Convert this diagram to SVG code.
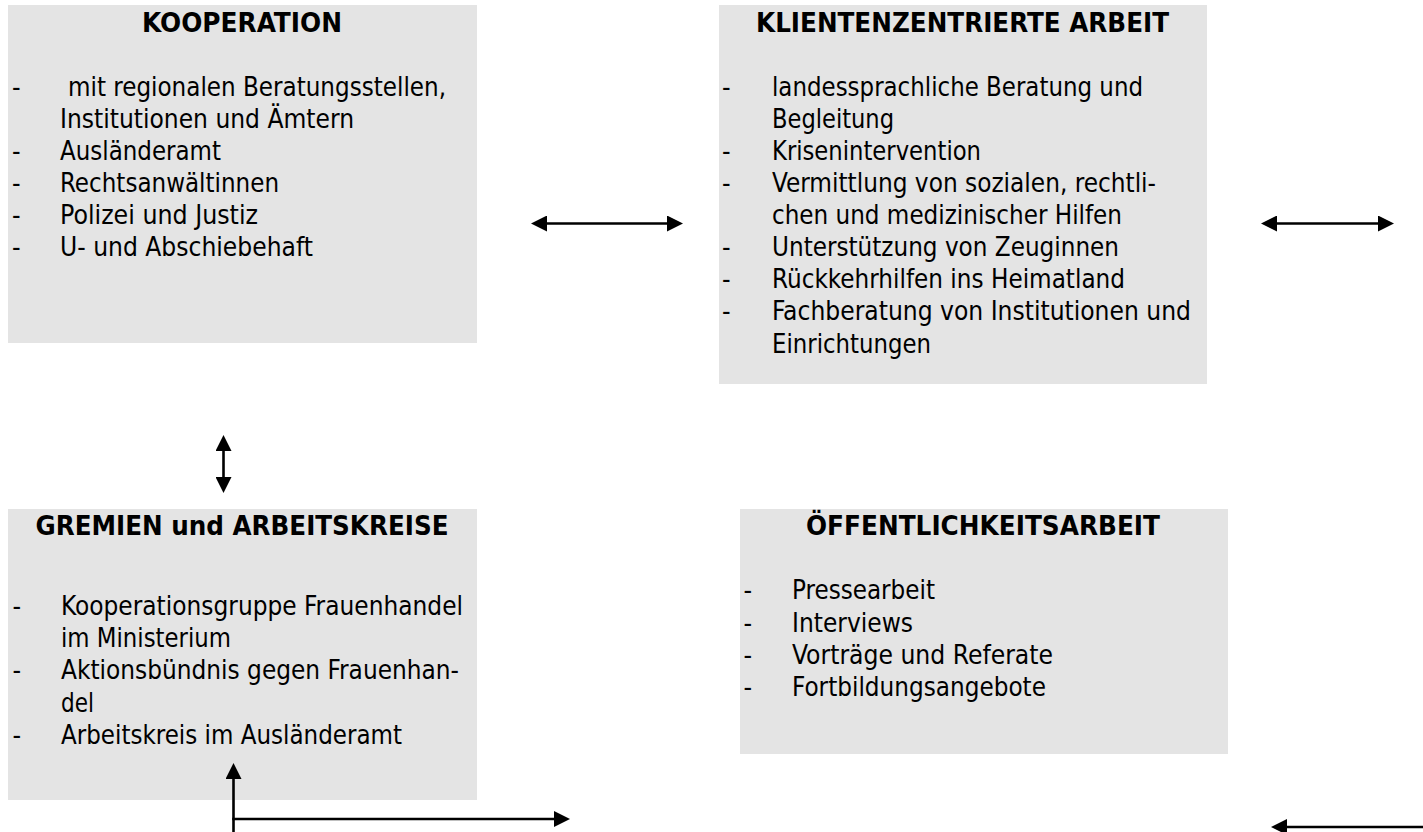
<svg xmlns="http://www.w3.org/2000/svg" width="1423" height="832" viewBox="0 0 1423 832">
<style>
.box{fill:#e4e4e4;stroke:none}
.t{font-family:"DejaVu Sans Condensed","DejaVu Sans",sans-serif;font-size:26.5px;font-weight:bold;fill:#000}
.b{font-family:"DejaVu Sans Condensed","DejaVu Sans",sans-serif;font-size:26.5px;fill:#000}
.c{fill:none;stroke:#000;stroke-width:2.6}
</style>
<defs>
<marker id="ah" viewBox="0 0 16 16" markerWidth="16" markerHeight="16" refX="0" refY="8" orient="auto-start-reverse" markerUnits="userSpaceOnUse">
<path d="M0,0 L16,8 L0,16 z" fill="#000"/>
</marker>
</defs>
<rect width="1423" height="832" fill="#fff"/>

<g id="kooperation">
<rect class="box" x="8" y="5" width="469" height="338"/>
<text class="t" x="142" y="32" textLength="200" lengthAdjust="spacingAndGlyphs">KOOPERATION</text>
<text class="b" x="12" y="96">-</text>
<text class="b" x="68" y="96" textLength="378" lengthAdjust="spacingAndGlyphs">mit regionalen Beratungsstellen,</text>
<text class="b" x="60" y="128" textLength="294" lengthAdjust="spacingAndGlyphs">Institutionen und Ämtern</text>
<text class="b" x="12" y="160">-</text>
<text class="b" x="60" y="160" textLength="161" lengthAdjust="spacingAndGlyphs">Ausländeramt</text>
<text class="b" x="12" y="192">-</text>
<text class="b" x="60" y="192" textLength="219" lengthAdjust="spacingAndGlyphs">Rechtsanwältinnen</text>
<text class="b" x="12" y="224">-</text>
<text class="b" x="60" y="224" textLength="198" lengthAdjust="spacingAndGlyphs">Polizei und Justiz</text>
<text class="b" x="12" y="256">-</text>
<text class="b" x="60" y="256" textLength="253" lengthAdjust="spacingAndGlyphs">U- und Abschiebehaft</text>
</g>

<g id="klientenzentrierte-arbeit">
<rect class="box" x="719" y="5" width="488" height="379"/>
<text class="t" x="756" y="32" textLength="413" lengthAdjust="spacingAndGlyphs">KLIENTENZENTRIERTE ARBEIT</text>
<text class="b" x="722" y="96">-</text>
<text class="b" x="772" y="96" textLength="371" lengthAdjust="spacingAndGlyphs">landessprachliche Beratung und</text>
<text class="b" x="772" y="128" textLength="122" lengthAdjust="spacingAndGlyphs">Begleitung</text>
<text class="b" x="722" y="160">-</text>
<text class="b" x="772" y="160" textLength="209" lengthAdjust="spacingAndGlyphs">Krisenintervention</text>
<text class="b" x="722" y="192">-</text>
<text class="b" x="772" y="192" textLength="384" lengthAdjust="spacingAndGlyphs">Vermittlung von sozialen, rechtli-</text>
<text class="b" x="772" y="224" textLength="350" lengthAdjust="spacingAndGlyphs">chen und medizinischer Hilfen</text>
<text class="b" x="722" y="256">-</text>
<text class="b" x="772" y="256" textLength="347" lengthAdjust="spacingAndGlyphs">Unterstützung von Zeuginnen</text>
<text class="b" x="722" y="288">-</text>
<text class="b" x="772" y="288" textLength="353" lengthAdjust="spacingAndGlyphs">Rückkehrhilfen ins Heimatland</text>
<text class="b" x="722" y="320">-</text>
<text class="b" x="772" y="320" textLength="419" lengthAdjust="spacingAndGlyphs">Fachberatung von Institutionen und</text>
<text class="b" x="772" y="353" textLength="159" lengthAdjust="spacingAndGlyphs">Einrichtungen</text>
</g>

<g id="gremien">
<rect class="box" x="8" y="509" width="469" height="291"/>
<text class="t" x="35.5" y="535" textLength="413" lengthAdjust="spacingAndGlyphs">GREMIEN und ARBEITSKREISE</text>
<text class="b" x="12.5" y="615">-</text>
<text class="b" x="61" y="615" textLength="402" lengthAdjust="spacingAndGlyphs">Kooperationsgruppe Frauenhandel</text>
<text class="b" x="61" y="647" textLength="170" lengthAdjust="spacingAndGlyphs">im Ministerium</text>
<text class="b" x="12.5" y="679">-</text>
<text class="b" x="61" y="679" textLength="398" lengthAdjust="spacingAndGlyphs">Aktionsbündnis gegen Frauenhan-</text>
<text class="b" x="61" y="712" textLength="33" lengthAdjust="spacingAndGlyphs">del</text>
<text class="b" x="12.5" y="744">-</text>
<text class="b" x="61" y="744" textLength="341" lengthAdjust="spacingAndGlyphs">Arbeitskreis im Ausländeramt</text>
</g>

<g id="oeffentlichkeitsarbeit">
<rect class="box" x="740" y="509" width="488" height="245"/>
<text class="t" x="806" y="535" textLength="354" lengthAdjust="spacingAndGlyphs">ÖFFENTLICHKEITSARBEIT</text>
<text class="b" x="743.5" y="599">-</text>
<text class="b" x="792" y="599" textLength="143" lengthAdjust="spacingAndGlyphs">Pressearbeit</text>
<text class="b" x="743.5" y="632">-</text>
<text class="b" x="792" y="632" textLength="121" lengthAdjust="spacingAndGlyphs">Interviews</text>
<text class="b" x="743.5" y="664">-</text>
<text class="b" x="792" y="664" textLength="261" lengthAdjust="spacingAndGlyphs">Vorträge und Referate</text>
<text class="b" x="743.5" y="696">-</text>
<text class="b" x="792" y="696" textLength="254" lengthAdjust="spacingAndGlyphs">Fortbildungsangebote</text>
</g>

<g id="connectors">
<path class="c" d="M547,223.5 H667" marker-start="url(#ah)" marker-end="url(#ah)"/>
<path class="c" d="M1277,223.5 H1378" marker-start="url(#ah)" marker-end="url(#ah)"/>
<path class="c" d="M223.5,451 V477" marker-start="url(#ah)" marker-end="url(#ah)"/>
<path class="c" d="M233.5,832 V779" marker-end="url(#ah)"/>
<path class="c" d="M232.2,819 H554" marker-end="url(#ah)"/>
<path class="c" d="M1423,827 H1287" marker-end="url(#ah)"/>
</g>
</svg>
